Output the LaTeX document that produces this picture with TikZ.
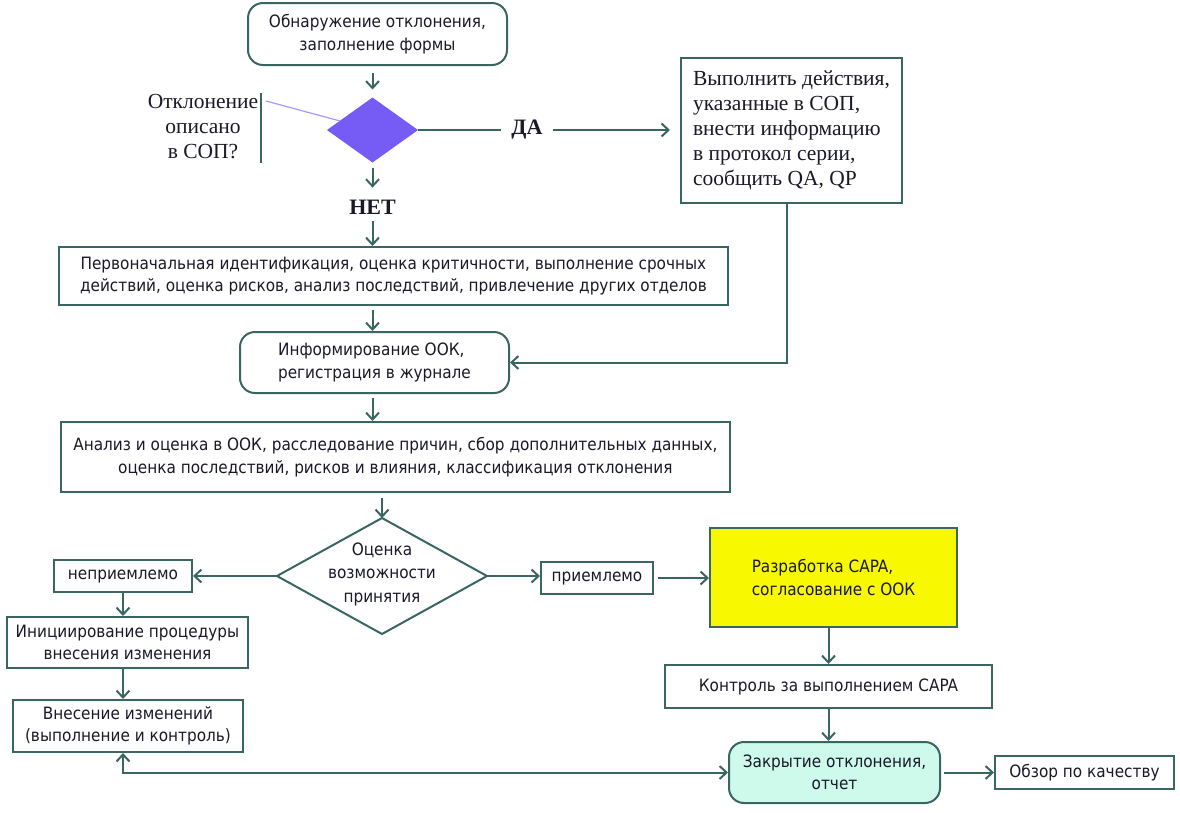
\documentclass[tikz,border=0pt]{standalone}
\usepackage{fontspec}
\setmainfont{Liberation Serif}
\newfontfamily\boxfont{DejaVu Sans Condensed}
\usetikzlibrary{shapes.geometric,arrows.meta,calc}
\definecolor{lc}{RGB}{58,102,98}
\definecolor{txt}{RGB}{25,25,40}
\definecolor{dfill}{RGB}{118,92,245}
\definecolor{callout}{RGB}{170,150,255}
\definecolor{ylw}{RGB}{248,248,0}
\definecolor{mint}{RGB}{205,250,235}
\begin{document}
\begin{tikzpicture}[x=1pt,y=-1pt,
  every node/.style={text=txt},
  box/.style={draw=lc, line width=2pt, align=center, inner sep=0pt, font=\boxfont\fontsize{17}{22.5}\selectfont},
  rbox/.style={box, rounded corners=15pt},
  sz/.style 2 args={minimum width=#1pt, minimum height=#2pt},
  serif/.style={font=\fontsize{21.5}{25}\selectfont},
  bold/.style={font=\bfseries\fontsize{22}{24}\selectfont},
  conn/.style={draw=lc, line width=2pt, -{Straight Barb[length=7pt,width=13pt]}},
  conn2/.style={draw=lc, line width=2pt, {Straight Barb[length=7pt,width=13pt]}-{Straight Barb[length=7pt,width=13pt]}},
  plain/.style={draw=lc, line width=2pt},
]
\useasboundingbox (0,0) rectangle (1180,812);

% top
\node[rbox, sz={259}{62}] (b1) at (377.5,34) {Обнаружение отклонения,\\заполнение формы};
\node[diamond, fill=dfill, sz={91}{65}, inner sep=0pt, outer sep=0pt] (d1) at (372.5,130) {};
\node[serif, align=center, inner sep=0pt] (q1) at (203,127) {Отклонение\\описано\\в СОП?};
\coordinate (bt) at (261,93);
\coordinate (bb) at (261,163);
\draw[plain] (bt) -- (bb);
\coordinate (cs) at (266,101);
\draw[draw=callout, line width=1.2pt] (cs) -- ($(d1.west)!0.28!(d1.north)$);

\node[bold, inner sep=10pt] (da) at (527,130) {ДА};
\node[box, serif, align=left, sz={221}{145}] (b5) at (791.5,130) {Выполнить действия,\\указанные в СОП,\\внести информацию\\в протокол серии,\\сообщить QA, QP};

\draw[conn, shorten <=7pt, shorten >=8pt] (b1.south -| d1) -- (d1.north);
\draw[plain] (d1.east) -- (da.west);
\draw[conn, shorten >=10pt] (da.east) -- (b5.west);

\node[bold, inner sep=0pt] (net) at (372.5,207) {НЕТ};
\draw[conn, shorten <=5pt, shorten >=12pt] (d1.south) -- (net.north);

% middle
\node[box, sz={669}{58}] (b2) at (393.5,276) {Первоначальная идентификация, оценка критичности, выполнение срочных\\действий, оценка рисков, анализ последствий, привлечение других отделов};
\draw[conn, shorten <=7pt] (net.south) -- (net.south |- b2.north);

\node[rbox, sz={269}{61}, align=left] (b3) at (374.5,362.5) {Информирование ООК,\\регистрация в журнале};
\draw[conn, shorten <=4pt] (b2.south -| net) -- (b3.north -| net);
\draw[conn] ([xshift=-4.5pt]b5.south) |- (b3.east);

\node[box, sz={669}{70}] (b4) at (395.5,457) {Анализ и оценка в ООК, расследование причин, сбор дополнительных данных,\\оценка последствий, рисков и влияния, классификация отклонения};
\draw[conn, shorten <=4pt] (b3.south -| net) -- (b4.north -| net);

\node[diamond, draw=lc, line width=2pt, sz={210}{116}, inner sep=0pt, outer sep=0pt] (d2) at (382,576) {};
\node[align=center, inner sep=0pt, font=\boxfont\fontsize{17}{23.5}\selectfont] (d2t) at (382,574) {Оценка\\возможности\\принятия};
\draw[conn, shorten <=5pt] (b4.south -| d2) -- (d2.north);

% left branch
\node[box, sz={138}{32}] (nep) at (123,576) {неприемлемо};
\draw[conn] (d2.west) -- (nep.east);
\node[box, sz={241}{51}] (ini) at (127.5,642.5) {Инициирование процедуры\\внесения изменения};
\node[box, sz={230}{52}] (vne) at (128,726) {Внесение изменений\\(выполнение и контроль)};
\draw[conn] (nep.south) -- (nep.south |- ini.north);
\draw[conn] (ini.south -| nep) -- (vne.north -| nep);

% right branch
\node[box, sz={112}{32}] (pri) at (597,578) {приемлемо};
\draw[conn] (d2.east) -- (d2.east -| pri.west);
\node[box, fill=ylw, sz={247}{99}, align=left] (cap) at (833.5,577.5) {Разработка CAPA,\\согласование с ООК};
\draw[conn, shorten <=4pt] (pri.east) -- (pri.east -| cap.west);
\node[box, sz={327}{43}] (ktl) at (828.5,686.5) {Контроль за выполнением CAPA};
\draw[conn] (cap.south -| ktl) -- (ktl.north);
\node[rbox, fill=mint, sz={211}{61}] (zak) at (834.5,772.5) {Закрытие отклонения,\\отчет};
\draw[conn] (ktl.south) -- (ktl.south |- zak.north);
\node[box, sz={179}{33}] (obz) at (1084.5,772.5) {Обзор по качеству};
\draw[conn, shorten <=3pt] (zak.east) -- (obz.west);

% bottom return
\draw[conn2] (vne.south -| nep) |- (zak.west);
\end{tikzpicture}
\end{document}
